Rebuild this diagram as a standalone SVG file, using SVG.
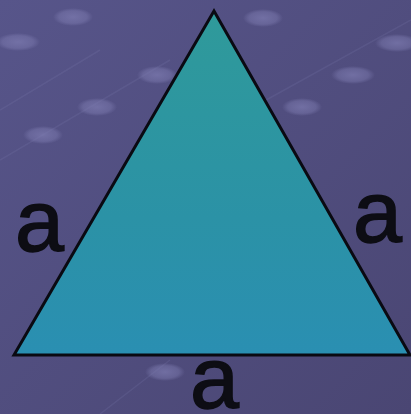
<svg xmlns="http://www.w3.org/2000/svg" width="411" height="414" viewBox="0 0 411 414">
<defs>
<linearGradient id="bg" x1="0" y1="0" x2="1" y2="1">
<stop offset="0" stop-color="#57558a"/>
<stop offset="1" stop-color="#4a4673"/>
</linearGradient>
<linearGradient id="tri" x1="0" y1="0" x2="0" y2="1">
<stop offset="0" stop-color="#2f9a9a"/>
<stop offset="0.6" stop-color="#2b92a6"/>
<stop offset="1" stop-color="#2a8fb2"/>
</linearGradient>
<radialGradient id="dot">
<stop offset="0" stop-color="#7f7db2" stop-opacity="0.7"/>
<stop offset="0.7" stop-color="#7f7db2" stop-opacity="0.45"/>
<stop offset="1" stop-color="#7f7db2" stop-opacity="0"/>
</radialGradient>
</defs>
<style>
.dot{fill:url(#dot)}
.trail{stroke:#7f7cb0;stroke-opacity:0.2;stroke-width:1.5;fill:none}
.lbl{font-family:"Liberation Sans",Arial,sans-serif;font-size:88px;fill:#0d0d14;stroke:#0d0d14;stroke-width:1.5}
</style>
<rect width="411" height="414" fill="url(#bg)"/>
<g id="background">
<path class="trail" d="M0 160 L170 60 M0 110 L100 50 M230 120 L411 20 M100 414 L170 360"/>
<ellipse class="dot" cx="73" cy="17" rx="20" ry="9"/>
<ellipse class="dot" cx="18" cy="42" rx="22" ry="9"/>
<ellipse class="dot" cx="157" cy="75" rx="20" ry="9"/>
<ellipse class="dot" cx="97" cy="107" rx="20" ry="9"/>
<ellipse class="dot" cx="43" cy="135" rx="20" ry="9"/>
<ellipse class="dot" cx="263" cy="18" rx="20" ry="9"/>
<ellipse class="dot" cx="397" cy="43" rx="22" ry="9"/>
<ellipse class="dot" cx="353" cy="75" rx="22" ry="9"/>
<ellipse class="dot" cx="302" cy="107" rx="20" ry="9"/>
<ellipse class="dot" cx="165" cy="372" rx="20" ry="9"/>
</g>
<g id="triangle">
<polygon points="214,11 14,355 410,355" fill="url(#tri)" stroke="#0a0a12" stroke-width="3" stroke-linejoin="miter"/>
</g>
<g id="labels">
<text class="lbl" x="15" y="251">a</text>
<text class="lbl" x="353" y="242">a</text>
<text class="lbl" x="190" y="408">a</text>
</g>
</svg>
